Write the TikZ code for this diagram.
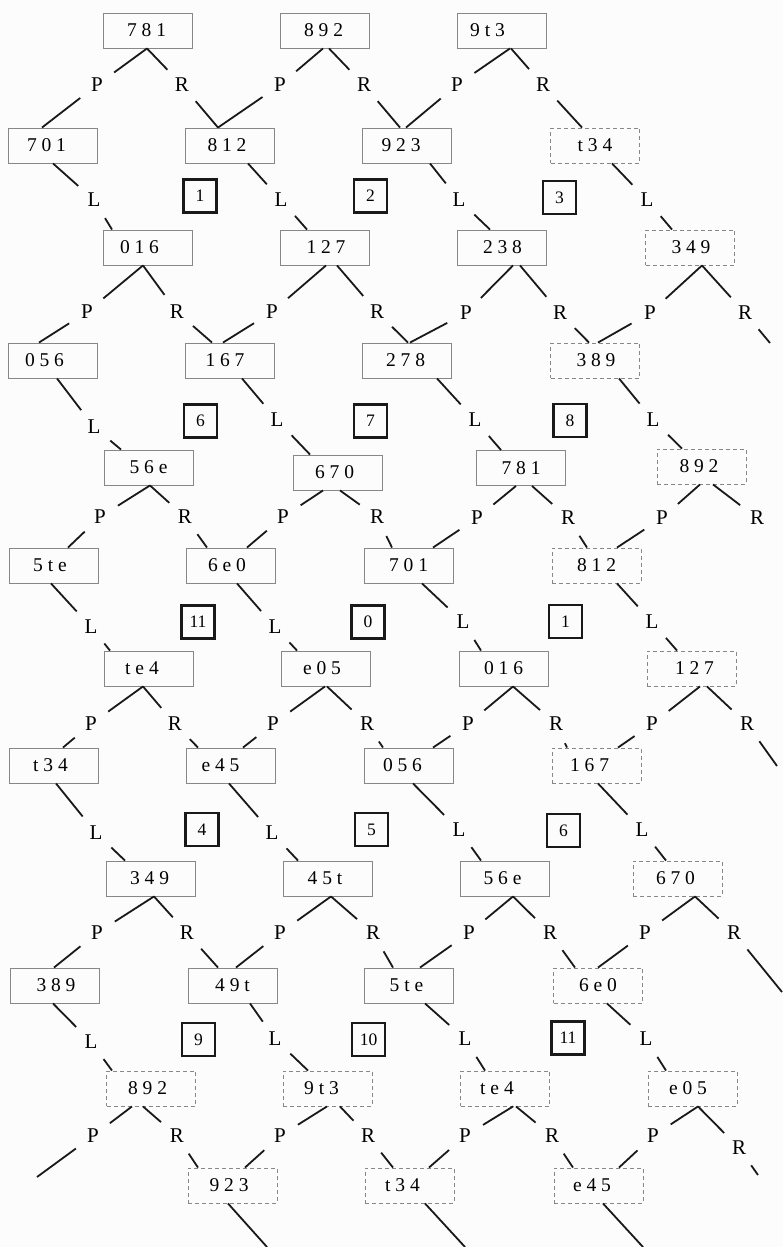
\documentclass[tikz,border=0pt]{standalone}
\usepackage{fontspec}
\setmainfont{Liberation Serif}
\definecolor{boxc}{RGB}{135,135,135}
\definecolor{linec}{RGB}{25,25,25}
\definecolor{bgc}{RGB}{252,252,252}
\newcommand\tx[1]{\kern#1pt\kern#1pt}
\newcommand\mkedge[7]{%
  \node[lbl] (#3) at (#4) {#5};
  \draw[ln] ([xshift=#2pt]#1.south) -- (#3);
  \draw[ln] (#3) -- ([xshift=#7pt]#6.north);}
\begin{document}
\begin{tikzpicture}[x=1pt,y=-1pt,
  nbox/.style={draw=boxc,line width=0.9pt,minimum width=89pt,minimum height=35pt,inner sep=0pt,font=\fontsize{19.5}{20}\selectfont},
  dbox/.style={nbox,dash pattern=on 4pt off 3pt},
  sq/.style={draw=linec,line width=2.3pt,minimum size=33pt,inner sep=0pt,font=\fontsize{17.5}{17.5}\selectfont},
  lbl/.style={circle,minimum size=42pt,inner sep=0pt,font=\fontsize{21}{21}\selectfont},
  ln/.style={draw=linec,line width=1.8pt}]
\fill[bgc] (0,0) rectangle (783,1247);
\useasboundingbox (0,0) rectangle (783,1247);
% row 0
\node[nbox] (n00) at (147.5,30.5) {\tx{-1}7 8 1};
\node[nbox] (n01) at (324.5,30.5) {\tx{-1}8 9 2};
\node[nbox] (n02) at (501.5,30.5) {\tx{-14}9 t 3};
% row 1
\node[nbox] (n10) at (52.5,145.5) {\tx{-6}7 0 1};
\node[nbox] (n11) at (229.5,145.5) {\tx{-2.5}8 1 2};
\node[nbox] (n12) at (406.5,145.5) {\tx{-5.5}9 2 3};
\node[dbox] (n13) at (595,145.5) {t 3 4};
% row 2
\node[nbox] (n20) at (147.5,247.5) {\tx{-8}0 1 6};
\node[nbox] (n21) at (325,247.5) {\tx{1}1 2 7};
\node[nbox] (n22) at (501.5,247.5) {\tx{1}2 3 8};
\node[dbox] (n23) at (690,247.5) {\tx{1}3 4 9};
% row 3
\node[nbox] (n30) at (52.5,360.5) {\tx{-8}0 5 6};
\node[nbox] (n31) at (229.5,360.5) {\tx{-4.5}1 6 7};
\node[nbox] (n32) at (406.5,360.5) {\tx{-1}2 7 8};
\node[dbox] (n33) at (595,360.5) {\tx{1}3 8 9};
% row 4
\node[nbox] (n40) at (148.5,467.5) {5 6 e};
\node[nbox] (n41) at (337.5,472.5) {\tx{-3}6 7 0};
\node[nbox] (n42) at (521,468) {7 8 1};
\node[dbox] (n43) at (701.5,466.5) {\tx{-2.5}8 9 2};
% row 5
\node[nbox] (n50) at (53.5,565.5) {\tx{-3.5}5 t e};
\node[nbox] (n51) at (231,565.5) {\tx{-4}6 e 0};
\node[nbox] (n52) at (408.5,565.5) {7 0 1};
\node[dbox] (n53) at (596.5,565.5) {8 1 2};
% row 6
\node[nbox] (n60) at (148.5,668.5) {\tx{-6.5}t e 4};
\node[nbox] (n61) at (326,668.5) {\tx{-4}e 0 5};
\node[nbox] (n62) at (503.5,668.5) {0 1 6};
\node[dbox] (n63) at (691.5,668.5) {\tx{3}1 2 7};
% row 7
\node[nbox] (n70) at (53.5,765.5) {\tx{-3}t 3 4};
\node[nbox] (n71) at (231,765.5) {\tx{-10.5}e 4 5};
\node[nbox] (n72) at (408.5,765.5) {\tx{-6}0 5 6};
\node[dbox] (n73) at (596.5,765.5) {\tx{-7}1 6 7};
% row 8
\node[nbox] (n80) at (150.5,878.5) {\tx{-1}3 4 9};
\node[nbox] (n81) at (327.5,878.5) {\tx{-2.5}4 5 t};
\node[nbox] (n82) at (505,878.5) {\tx{-2.5}5 6 e};
\node[dbox] (n83) at (677.5,878.5) {\tx{-2}6 7 0};
% row 9
\node[nbox] (n90) at (55,985.5) {\tx{1}3 8 9};
\node[nbox] (n91) at (232.5,985.5) {4 9 t};
\node[nbox] (n92) at (409,985.5) {\tx{-2.5}5 t e};
\node[dbox] (n93) at (598,985.5) {6 e 0};
% row 10
\node[dbox] (nA0) at (151,1088.5) {\tx{-3.5}8 9 2};
\node[dbox] (nA1) at (327.5,1088.5) {\tx{-6}9 t 3};
\node[dbox] (nA2) at (505,1088.5) {\tx{-8}t e 4};
\node[dbox] (nA3) at (692.5,1088.5) {\tx{-4.5}e 0 5};
% row 11
\node[dbox] (nB0) at (232.5,1185.5) {\tx{-3.5}9 2 3};
\node[dbox] (nB1) at (409.5,1185.5) {\tx{-7}t 3 4};
\node[dbox] (nB2) at (598.5,1185.5) {\tx{-6.5}e 4 5};
% squares
\node[sq] (s1) at (200,196) {1};
\node[sq] (s2) at (370.5,196) {2};
\node[sq] (s3) at (559.5,197.5) {3};
\node[sq] (s4) at (200.5,421) {6};
\node[sq] (s5) at (370.5,421) {7};
\node[sq] (s6) at (570,420.5) {8};
\node[sq] (s7) at (198,622) {11};
\node[sq] (s8) at (368,622) {0};
\node[sq] (s9) at (565.5,621.5) {1};
\node[sq] (s10) at (202,829.5) {4};
\node[sq] (s11) at (371.5,829.5) {5};
\node[sq] (s12) at (563.5,830.5) {6};
\node[sq] (s13) at (198.5,1039.5) {9};
\node[sq] (s14) at (368.5,1039.5) {10};
\node[sq] (s15) at (568,1038) {11};
% edges row 0 -> 1
\mkedge{n00}{-0.5}{p00}{97,85}{P}{n10}{-10.5}
\mkedge{n00}{-0.5}{r00}{182,85}{R}{n11}{-11.5}
\mkedge{n01}{-1.5}{p01}{280,85}{P}{n11}{-11.5}
\mkedge{n01}{4.5}{r01}{364,85}{R}{n12}{-6.5}
\mkedge{n02}{8.5}{p02}{457,85}{P}{n12}{-0.5}
\mkedge{n02}{9.5}{r02}{543,85}{R}{n13}{-13}
% row 1 -> 2
\mkedge{n10}{0.5}{l10}{94,200}{L}{n20}{-35.5}
\mkedge{n11}{18.5}{l11}{281,200}{L}{n21}{-18}
\mkedge{n12}{23.5}{l12}{459,200}{L}{n22}{-11.5}
\mkedge{n13}{17}{l13}{647,200}{L}{n23}{-18}
% row 2 -> 3
\mkedge{n20}{-4.5}{p20}{87,312}{P}{n30}{-13.5}
\mkedge{n20}{-4.5}{r20}{177,312}{R}{n31}{-17.5}
\mkedge{n21}{1}{p21}{272,312}{P}{n31}{-6.5}
\mkedge{n21}{12}{r21}{377,312}{R}{n32}{1.5}
\mkedge{n22}{11.5}{p22}{466,313}{P}{n32}{3.5}
\mkedge{n22}{18.5}{r22}{560,313}{R}{n33}{-6}
\mkedge{n23}{12}{p23}{650,313}{P}{n33}{3}
\node[lbl] (r23) at (745,313) {R};
\coordinate (f1) at (770,343);
\draw[ln] ([xshift=12pt]n23.south) -- (r23);
\draw[ln] (r23) -- (f1);
% row 3 -> 4
\mkedge{n30}{4.5}{l30}{94,427}{L}{n40}{-27.5}
\mkedge{n31}{12.5}{l31}{277,420}{L}{n41}{-27.5}
\mkedge{n32}{30.5}{l32}{475,420}{L}{n42}{-20}
\mkedge{n33}{24}{l33}{653,420}{L}{n43}{-19.5}
% row 4 -> 5
\mkedge{n40}{1.5}{p40}{100,517}{P}{n50}{14.5}
\mkedge{n40}{1.5}{r40}{185,517}{R}{n51}{-24}
\mkedge{n41}{-14.5}{p41}{283,517}{P}{n51}{16}
\mkedge{n41}{2.5}{r41}{377,517}{R}{n52}{-16.5}
\mkedge{n42}{-5}{p42}{477,518}{P}{n52}{24.5}
\mkedge{n42}{11}{r42}{568,518}{R}{n53}{-9.5}
\mkedge{n43}{-1.5}{p43}{662,518}{P}{n53}{20.5}
\node[lbl] (r43) at (757,518) {R};
\draw[ln] ([xshift=11.5pt]n43.south) -- (r43);
% row 5 -> 6
\mkedge{n50}{-2.5}{l50}{91,627}{L}{n60}{-38.5}
\mkedge{n51}{6}{l51}{275,627}{L}{n61}{-29}
\mkedge{n52}{13.5}{l52}{463,622}{L}{n62}{-22.5}
\mkedge{n53}{20.5}{l53}{652,622}{L}{n63}{-14.5}
% row 6 -> 7
\mkedge{n60}{-5.5}{p60}{91,724}{P}{n70}{9.5}
\mkedge{n60}{-5.5}{r60}{175,724}{R}{n71}{-33}
\mkedge{n61}{-1}{p61}{273,724}{P}{n71}{12}
\mkedge{n61}{1}{r61}{367,724}{R}{n72}{-25.5}
\mkedge{n62}{9.5}{p62}{468,724}{P}{n72}{24.5}
\mkedge{n62}{9.5}{r62}{556,724}{R}{n73}{-29.5}
\mkedge{n63}{8.5}{p63}{652,724}{P}{n73}{21.5}
\node[lbl] (r63) at (747,724) {R};
\coordinate (f2) at (777,766);
\draw[ln] ([xshift=15.5pt]n63.south) -- (r63);
\draw[ln] (r63) -- (f2);
% row 7 -> 8
\mkedge{n70}{2.5}{l70}{96,833}{L}{n80}{-25.5}
\mkedge{n71}{-2}{l71}{272,833}{L}{n81}{-29.5}
\mkedge{n72}{4.5}{l72}{459,830}{L}{n82}{-24}
\mkedge{n73}{1.5}{l73}{642,830}{L}{n83}{-11.5}
% row 8 -> 9
\mkedge{n80}{3.5}{p80}{97,933}{P}{n90}{-1}
\mkedge{n80}{3.5}{r80}{187,933}{R}{n91}{-14.5}
\mkedge{n81}{3.5}{p81}{280,933}{P}{n91}{3.5}
\mkedge{n81}{3.5}{r81}{373,933}{R}{n92}{-16}
\mkedge{n82}{8}{p82}{469,933}{P}{n92}{11}
\mkedge{n82}{8}{r82}{550,933}{R}{n93}{-23}
\mkedge{n83}{17.5}{p83}{645,933}{P}{n93}{0}
\node[lbl] (r83) at (734,933) {R};
\coordinate (f3) at (782,992);
\draw[ln] ([xshift=17.5pt]n83.south) -- (r83);
\draw[ln] (r83) -- (f3);
% row 9 -> 10
\mkedge{n90}{-2}{l90}{91,1042}{L}{nA0}{-39}
\mkedge{n91}{17.5}{l91}{275,1039}{L}{nA1}{-19.5}
\mkedge{n92}{16}{l92}{465,1039}{L}{nA2}{-20}
\mkedge{n93}{9}{l93}{646,1039}{L}{nA3}{-26.5}
% row 10 -> 11
\node[lbl] (pA0) at (93,1136) {P};
\coordinate (f4) at (37,1177);
\draw[ln] ([xshift=-19pt]nA0.south) -- (pA0);
\draw[ln] (pA0) -- (f4);
\mkedge{nA0}{-8}{rA0}{177,1136}{R}{nB0}{-34.5}
\mkedge{nA1}{-0.5}{pA1}{280,1136}{P}{nB0}{12.5}
\mkedge{nA1}{12.5}{rA1}{368,1136}{R}{nB1}{-16.5}
\mkedge{nA2}{8}{pA2}{465,1136}{P}{nB1}{19.5}
\mkedge{nA2}{11}{rA2}{552,1136}{R}{nB2}{-25.5}
\mkedge{nA3}{5.5}{pA3}{653,1136}{P}{nB2}{20.5}
\node[lbl] (rA3) at (739,1148) {R};
\coordinate (f5) at (758,1175);
\draw[ln] ([xshift=5.5pt]nA3.south) -- (rA3);
\draw[ln] (rA3) -- (f5);
% bottom free lines
\coordinate (f6) at (267,1247);
\coordinate (f7) at (465,1247);
\coordinate (f8) at (643,1247);
\draw[ln] ([xshift=-4.5pt]nB0.south) -- (f6);
\draw[ln] ([xshift=15.5pt]nB1.south) -- (f7);
\draw[ln] ([xshift=4.5pt]nB2.south) -- (f8);
\end{tikzpicture}
\end{document}
